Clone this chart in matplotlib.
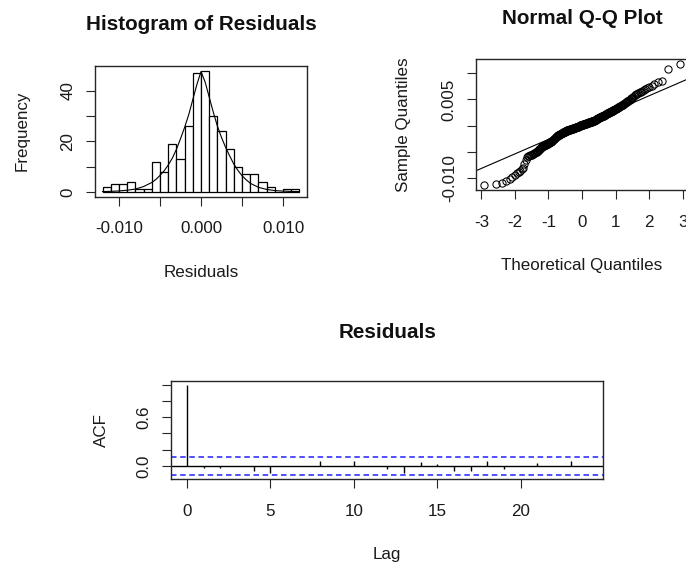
import numpy as np
import matplotlib
matplotlib.use("Agg")
import matplotlib.pyplot as plt
from statistics import NormalDist

plt.rcParams['font.family'] = ['Liberation Sans', 'DejaVu Sans']
plt.rcParams['axes.unicode_minus'] = False

# ---- data -------------------------------------------------------------
# model residuals, stored in units of 1e-5
residuals_e5 = [
    -1140, -1110,
    -1090, -1060, -1020,
    -985, -950, -915,
    -890, -865, -840, -815,
    -740,
    -650,
    -595, -585, -578, -570, -562, -555, -548, -540, -532, -522, -512, -504,
    -492, -480, -468, -455, -442, -430, -418, -406,
    -397, -392, -386, -381, -376, -371, -365, -360, -355, -350, -344, -339,
    -334, -329, -323, -318, -313, -308, -303,
    -296, -288, -281, -273, -266, -258, -251, -243, -236, -228, -221, -213, -206,
    -198, -194, -190, -186, -183, -179, -175, -171, -167, -163, -160, -156,
    -152, -148, -144, -140, -137, -133, -129, -125, -121, -117, -114, -110,
    -106, -102,
    -99, -97, -95, -93, -91, -89, -87, -85, -83, -81, -79, -77, -75, -73,
    -71, -69, -67, -65, -63, -61, -59, -57, -55, -53, -51, -49, -47, -45,
    -43, -41, -39, -37, -35, -33, -31, -29, -27, -25, -23, -21, -19, -17,
    -15, -13, -11, -9, -7,
    1, 3, 5, 7, 9, 11, 13, 15, 17, 19, 21, 23, 25, 27, 29, 31, 33, 35, 37,
    39, 41, 43, 45, 47, 49, 51, 53, 55, 57, 59, 61, 63, 65, 67, 69, 71, 73,
    75, 77, 79, 81, 83, 85, 87, 89, 91, 93, 95,
    102, 105, 109, 112, 115, 119, 122, 125, 129, 132, 135, 139, 142, 145, 149,
    152, 155, 159, 162, 165, 169, 172, 175, 179, 182, 185, 189, 192, 195, 198,
    202, 206, 210, 214, 218, 223, 227, 231, 235, 239, 243, 247, 251, 255, 259,
    263, 268, 272, 276, 280, 284, 288, 292, 296,
    303, 309, 315, 320, 326, 332, 338, 344, 350, 355, 361, 367, 373, 379, 385,
    390, 396,
    405, 415, 425, 435, 445, 455, 465, 475, 485, 495,
    507, 520, 535, 550, 565, 580, 594,
    607, 620, 635, 650, 665, 680, 694,
    715, 740, 765, 790,
    835, 860,
    1090,
    1180,
]
residuals = np.array(residuals_e5) * 1e-5

hist_breaks = np.linspace(-0.012, 0.012, 25)

# fitted density curve, scaled to counts (x in units of 1e-3)
curve_x_e3 = [-12, -11, -10, -9, -8, -7, -6, -5.5, -5, -4.5, -4, -3.5, -3,
              -2.5, -2, -1.5, -1, -0.5, 0, 0.5, 1, 1.5, 2, 2.5, 3, 3.5, 4,
              4.5, 5, 5.5, 6, 7, 8, 9, 10, 11, 12]
curve_count = [0.1, 0.2, 0.35, 0.65, 1.1, 2.1, 3.7, 4.9, 6.5, 8.3, 10.6,
               13.3, 16.8, 21.0, 25.5, 30.5, 36.5, 42.5, 47.6, 43.5, 37.5,
               31.5, 26.0, 21.5, 17.6, 14.2, 11.0, 8.5, 6.4, 4.8, 3.4, 1.8,
               0.95, 0.5, 0.3, 0.17, 0.1]

acf_lags = list(range(25))
acf_values = [1.0, -0.02, -0.02, 0.0, -0.065, -0.08, 0.005, -0.005, 0.065,
              0.005, 0.065, 0.003, -0.035, -0.085, 0.05, 0.02, -0.065,
              -0.06, 0.065, -0.035, 0.004, 0.032, -0.003, 0.065, 0.003]

# ---- figure -----------------------------------------------------------
W, H = 686, 567
fig = plt.figure(figsize=(W / 100, H / 100), dpi=100)

TXT = 12.25
TTL = 14.9
BOX = '#262626'


def axes_px(left, top, right, bottom):
    return fig.add_axes([left / W, 1 - bottom / H, (right - left) / W,
                         (bottom - top) / H])


def r_style(ax, xticks, xlabels, yticks, ylabels):
    for s in ax.spines.values():
        s.set_linewidth(1.0)
        s.set_color(BOX)
    ax.set_xticks(xticks)
    ax.set_xticklabels(xlabels)
    ax.set_yticks(yticks)
    ax.set_yticklabels(ylabels)
    ax.tick_params(axis='both', direction='out', length=6.8, width=0.8,
                   color=BOX, labelsize=TXT, labelcolor='#1a1a1a')
    ax.tick_params(axis='x', pad=11)
    ax.tick_params(axis='y', pad=7)
    for lab in ax.get_yticklabels():
        lab.set_rotation(90)
        lab.set_va('center')


def r_labels(ax, title, title_y, xlabel, xlabel_y, ylabel, ylabel_x):
    ax.text(0.5, title_y, title, transform=ax.transAxes, ha='center',
            va='center', fontsize=TTL, fontweight='bold', color='#111111')
    ax.text(0.5, xlabel_y, xlabel, transform=ax.transAxes, ha='center',
            va='center', fontsize=TXT, color='#1a1a1a')
    ax.text(ylabel_x, 0.5, ylabel, transform=ax.transAxes, ha='center',
            va='center', rotation=90, fontsize=TXT, color='#1a1a1a')


def ext(lo, hi, f=0.04):
    d = (hi - lo) * f
    return lo - d, hi + d


# histogram of residuals
ax1 = axes_px(94.7, 65.7, 307.3, 196.7)
counts, _, _ = ax1.hist(residuals, bins=hist_breaks, facecolor='white',
                        edgecolor='black', linewidth=0.9)
ax1.plot(np.array(curve_x_e3) * 1e-3, curve_count, color='black', lw=0.8)
ax1.set_xlim(*ext(hist_breaks[0], hist_breaks[-1]))
ax1.set_ylim(*ext(0, counts.max()))
r_style(ax1, [-0.010, -0.005, 0.0, 0.005, 0.010],
        ['-0.010', '', '0.000', '', '0.010'],
        [0, 10, 20, 30, 40], ['0', '', '20', '', '40'])
r_labels(ax1, 'Histogram of Residuals', 1.318, 'Residuals', -0.575,
         'Frequency', -0.343)

# normal Q-Q plot
ax2 = axes_px(476, 59, 688, 190)
n = len(residuals)
sample_q = np.sort(residuals)
nd = NormalDist()
theo_q = np.array([nd.inv_cdf((i - 0.5) / n) for i in range(1, n + 1)])
ax2.plot(theo_q, sample_q, 'o', mfc='none', mec='black', ms=5.2, mew=0.75)
q1, q3 = np.percentile(residuals, [25, 75])
z1, z3 = nd.inv_cdf(0.25), nd.inv_cdf(0.75)
slope = (q3 - q1) / (z3 - z1)
intercept = q1 - slope * z1
ax2.axline((0, intercept), slope=slope, color='black', lw=0.8)
ax2.set_xlim(*ext(theo_q.min(), theo_q.max()))
ax2.set_ylim(*ext(sample_q.min(), sample_q.max()))
r_style(ax2, [-3, -2, -1, 0, 1, 2, 3],
        ['-3', '-2', '-1', '0', '1', '2', '3'],
        [-0.010, -0.005, 0.0, 0.005, 0.010],
        ['-0.010', '', '', '0.005', ''])
r_labels(ax2, 'Normal Q-Q Plot', 1.311, 'Theoretical Quantiles', -0.573,
         'Sample Quantiles', -0.343)

# autocorrelation of residuals
ax3 = axes_px(171, 381, 603.3, 479)
clim = 1.96 / np.sqrt(n)
ax3.vlines(acf_lags, 0, acf_values, color='black', lw=1.0)
ax3.axhline(0, color='black', lw=1.0)
for c in (clim, -clim):
    ax3.axhline(c, color='#1f1fff', lw=1.1, dashes=(3.6, 2.4))
ax3.set_xlim(*ext(min(acf_lags), max(acf_lags)))
ax3.set_ylim(*ext(min(-clim, min(acf_values)), max(clim, max(acf_values))))
r_style(ax3, [0, 5, 10, 15, 20], ['0', '5', '10', '15', '20'],
        [0.0, 0.2, 0.4, 0.6, 0.8, 1.0], ['0.0', '', '', '0.6', '', ''])
r_labels(ax3, 'Residuals', 1.493, 'Lag', -0.7755, 'ACF', -0.1603)

fig.savefig('out.png', dpi=100)
